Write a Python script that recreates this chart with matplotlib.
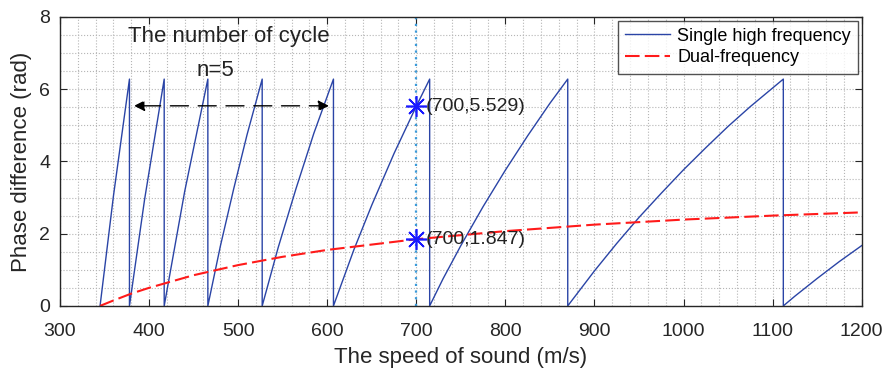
import numpy as np
import matplotlib
matplotlib.use("Agg")
import matplotlib.pyplot as plt
from matplotlib.ticker import MultipleLocator

plt.rcParams['font.family'] = ['Liberation Sans', 'DejaVu Sans']

# single high frequency phase (wraps at 2*pi); repeated x marks the vertical drop
single_x = [345, 360, 378, 378, 395, 417, 417, 440, 466, 466, 480, 495, 510, 527,
            527, 545, 565, 585, 607, 607, 630, 650, 675, 700, 715,
            715, 730, 750, 775, 800, 825, 850, 870,
            870, 900, 925, 950, 975, 1000, 1025, 1050, 1075, 1112,
            1112, 1125, 1150, 1175, 1200]
single_y = [0.00, 3.04, 6.28, 0.00, 2.95, 6.28, 0.00, 3.17, 6.28, 0.00, 1.65, 3.24, 4.74, 6.28,
            0.00, 1.62, 3.25, 4.78, 6.28, 0.00, 1.56, 2.79, 4.22, 5.53, 6.28,
            0.00, 0.75, 1.67, 2.75, 3.76, 4.71, 5.61, 6.28,
            0.00, 0.97, 1.73, 2.45, 3.12, 3.77, 4.38, 4.97, 5.52, 6.28,
            0.00, 0.27, 0.76, 1.23, 1.67]

dual_x = [345, 360, 380, 400, 450, 500, 550, 600, 700, 800, 900, 1000, 1100, 1200]
dual_y = [0.00, 0.15, 0.34, 0.50, 0.85, 1.13, 1.36, 1.55, 1.847, 2.07, 2.25, 2.39, 2.50, 2.59]

mark_x = [700, 700]
mark_y = [5.529, 1.847]
mark_txt = ["(700,5.529)", "(700,1.847)"]

fig = plt.figure(figsize=(8.82, 3.69), dpi=100)
ax = fig.add_axes([0.068, 0.171, 0.909, 0.783])

ax.plot(single_x, single_y, color="#2a44a6", lw=1.0, label="Single high frequency")
ax.plot(dual_x, dual_y, color="#ff1a1a", lw=1.5, ls=(0, (7, 2.5)), label="Dual-frequency")

ax.axvline(700, color="#3a9ad9", ls=(0, (1, 2)), lw=1.6)
ax.plot(mark_x, mark_y, ls="none", marker=(8, 2, 0), ms=15, mew=1.2, color="#1a1aff")
for mx, my, t in zip(mark_x, mark_y, mark_txt):
    ax.text(mx + 11, my, t, fontsize=14, va="center", ha="left", color="#222222")

# cycle count annotation
ax.annotate("", xy=(380, 5.54), xytext=(605, 5.54),
            arrowprops=dict(arrowstyle="<|-|>", color="black", lw=1.0,
                            ls=(0, (13, 7)), mutation_scale=16))
ax.text(490, 7.47, "The number of cycle", fontsize=16, ha="center", va="center",
        color="#222222")
ax.text(474, 6.53, "n=5", fontsize=16, ha="center", va="center", color="#222222")

ax.set_xlim(300, 1200)
ax.set_ylim(0, 8)
ax.xaxis.set_major_locator(MultipleLocator(100))
ax.yaxis.set_major_locator(MultipleLocator(2))
ax.xaxis.set_minor_locator(MultipleLocator(20))
ax.yaxis.set_minor_locator(MultipleLocator(0.5))
ax.grid(which="both", color="#b5b5b5", ls=":", lw=0.8)
ax.tick_params(which="major", direction="in", length=5, top=True, right=True,
               labelsize=14, colors="#262626")
ax.tick_params(axis="x", which="major", pad=12)
ax.tick_params(axis="y", which="major", pad=7)
ax.tick_params(which="minor", length=0)
for s in ax.spines.values():
    s.set_color("#262626")
    s.set_linewidth(1.0)

ax.set_xlabel("The speed of sound (m/s)", fontsize=16, color="#262626", labelpad=5)
ax.set_ylabel("Phase difference (rad)", fontsize=16, color="#262626", labelpad=5)

leg = ax.legend(loc="upper right", fontsize=13, frameon=True, fancybox=False,
                edgecolor="#262626", handlelength=2.5, handletextpad=0.4,
                borderpad=0.4, labelspacing=0.25, borderaxespad=0.2)
leg.get_frame().set_linewidth(1.0)

fig.savefig("out.png", dpi=100)
